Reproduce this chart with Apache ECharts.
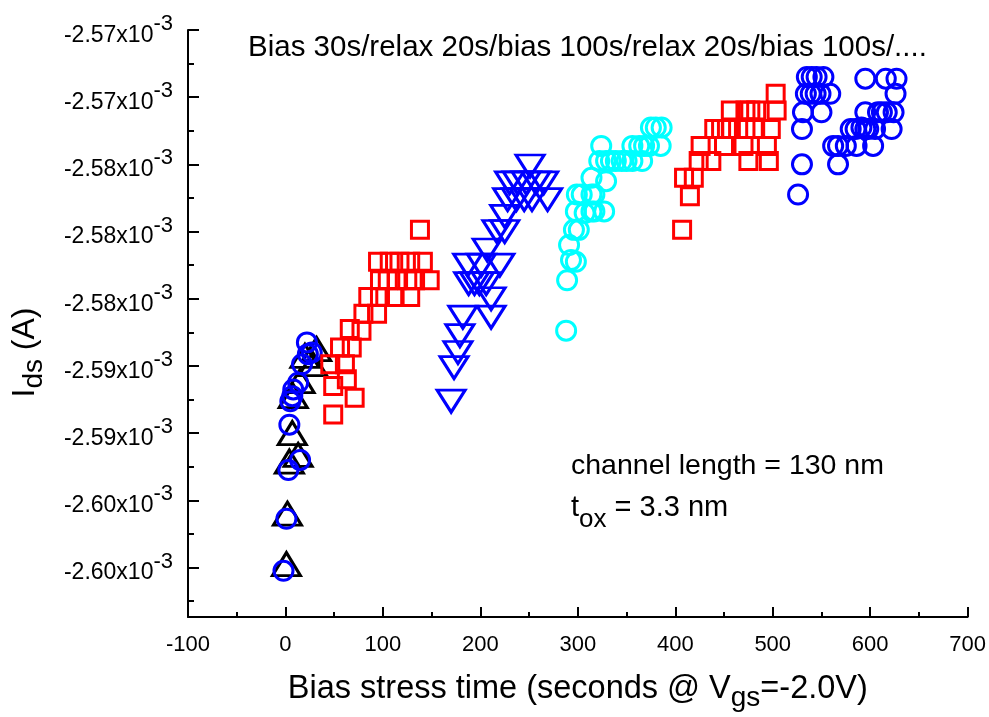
<!DOCTYPE html>
<html>
<head>
<meta charset="utf-8">
<script src="https://cdn.jsdelivr.net/npm/echarts@6/dist/echarts.min.js"></script>
<style>
  html, body { margin: 0; padding: 0; background: #fff; }
  #main { width: 989px; height: 717px; }
</style>
</head>
<body>
<div id="main"></div>
<script>
// Ids values are in units of 1e-3 A, time in seconds
var triX = [1, 2, 4, 13, 7, 8, 15, 20, 28, 32];
var triY = [-2.5998, -2.5968, -2.5937, -2.5933, -2.5920, -2.5898, -2.5889, -2.5874, -2.5879, -2.5870];

var circ1X = [-2, 1, 3, 15, 4, 5, 7, 8, 13, 17, 22, 23, 27];
var circ1Y = [-2.6002, -2.5971, -2.5942, -2.5936, -2.5915, -2.5901, -2.5898, -2.5894, -2.5890, -2.5879, -2.5866, -2.5873, -2.5872];

var sq1X = [49, 71, 49, 63, 46, 61, 56, 68, 66, 78, 80, 94, 85, 97, 112, 128,
            97, 105, 114, 125, 133, 148, 95, 107, 117, 128, 141, 138];
var sq1Y = [-2.5909, -2.5899, -2.5892, -2.5888, -2.5879, -2.5879, -2.5869, -2.5869, -2.5858, -2.5859,
            -2.5849, -2.5849, -2.5839, -2.5839, -2.5839, -2.5839,
            -2.5829, -2.5829, -2.5829, -2.5829, -2.5829, -2.5829,
            -2.5818, -2.5818, -2.5818, -2.5818, -2.5818, -2.5799];

var triDX = [170, 173, 177, 179, 182, 188, 194, 199, 206, 211, 211, 187, 201, 220, 207,
             217, 225, 225, 228, 237, 245, 253, 269, 230, 238, 247, 257, 265, 251];
var triDY = [-2.5901, -2.5881, -2.5872, -2.5862, -2.5851, -2.5831, -2.5831, -2.5831, -2.5831, -2.5840,
             -2.5851, -2.5820, -2.5820, -2.5820, -2.5811, -2.5800, -2.5800, -2.5791,
             -2.5781, -2.5781, -2.5781, -2.5781, -2.5781,
             -2.5771, -2.5771, -2.5771, -2.5771, -2.5771, -2.5761];

var cyanX = [288, 289, 298, 293, 291, 296, 301, 298, 307, 314, 317, 327, 299, 304, 314, 317, 314, 329,
             322, 329, 334, 339, 345, 350, 356, 366, 324, 356, 363, 368, 373, 385, 375, 380, 386];
var cyanY = [-2.5859, -2.5829, -2.5818, -2.5817, -2.5808, -2.5799, -2.5799, -2.5788, -2.5789, -2.5788,
             -2.5788, -2.5788, -2.5778, -2.5778, -2.5778, -2.5778, -2.5768, -2.5770,
             -2.5758, -2.5758, -2.5758, -2.5758, -2.5758, -2.5758, -2.5758, -2.5758,
             -2.5749, -2.5749, -2.5749, -2.5749, -2.5749, -2.5749, -2.5738, -2.5738, -2.5738];

var sq2X = [407, 415, 409, 419, 424, 437, 475, 496, 426, 450, 470, 494,
            440, 447, 453, 457, 472, 482, 498, 457, 472, 477, 483, 504, 503];
var sq2Y = [-2.5799, -2.5779, -2.5768, -2.5768, -2.5758, -2.5758, -2.5758, -2.5758,
            -2.5749, -2.5749, -2.5749, -2.5749,
            -2.5739, -2.5739, -2.5739, -2.5739, -2.5739, -2.5739, -2.5739,
            -2.5728, -2.5728, -2.5728, -2.5728, -2.5728, -2.5718];

var circ2X = [526, 530, 530, 531, 550, 534, 539, 544, 549, 559, 535, 540, 545, 552,
              567, 562, 567, 575, 586, 603, 580, 585, 595, 598, 605, 622, 591,
              595, 608, 612, 617, 624, 626, 595, 616, 627];
var circ2Y = [-2.5778, -2.5760, -2.5739, -2.5729, -2.5729,
              -2.5718, -2.5718, -2.5718, -2.5718, -2.5718,
              -2.5708, -2.5708, -2.5708, -2.5708,
              -2.5760, -2.5749, -2.5749, -2.5749, -2.5749, -2.5749,
              -2.5739, -2.5739, -2.5739, -2.5739, -2.5739, -2.5739, -2.5738,
              -2.5729, -2.5729, -2.5729, -2.5729, -2.5729, -2.5718, -2.5709, -2.5709, -2.5709];

var yTicks = [-2.568, -2.572, -2.576, -2.580, -2.584, -2.588, -2.592, -2.596, -2.600];
var yMinorTicks = [-2.570, -2.574, -2.578, -2.582, -2.586, -2.590, -2.594, -2.598, -2.602];

function pairs(xs, ys) {
    return xs.map(function (x, i) { return [x, ys[i]]; });
}

var FONT = 'Liberation Sans';

function scatter(name, xs, ys, color, symbol, size, bw, rotate) {
    return {
        name: name,
        type: 'scatter',
        data: pairs(xs, ys),
        symbol: symbol,
        symbolSize: size,
        symbolRotate: rotate || 0,
        itemStyle: { color: 'rgba(0,0,0,0)', borderColor: color, borderWidth: bw, opacity: 1 },
        emphasis: { disabled: true }
    };
}

var myChart = echarts.init(document.getElementById('main'));
option = {
    animation: false,
    backgroundColor: '#fff',
    grid: { left: 188, right: 19, top: 30, bottom: 94 },
    xAxis: {
        type: 'value',
        min: -100,
        max: 700,
        interval: 100,
        name: 'Bias stress time (seconds @ V{sub|gs}=-2.0V)',
        nameLocation: 'middle',
        nameGap: 49,
        nameTextStyle: {
            fontFamily: FONT, fontSize: 32.5, color: '#000',
            rich: { sub: { fontFamily: FONT, fontSize: 28, color: '#000', padding: [18, 0, 0, 0] } }
        },
        axisLine: { onZero: false, lineStyle: { color: '#000', width: 2 } },
        axisTick: { inside: true, length: 10, lineStyle: { color: '#000', width: 2 } },
        minorTick: { show: true, splitNumber: 2, length: 5, lineStyle: { color: '#000', width: 2 } },
        axisLabel: { margin: 17, fontFamily: FONT, fontSize: 22, color: '#000' },
        splitLine: { show: false }
    },
    yAxis: [{
        type: 'value',
        min: -2.60295,
        max: -2.568,
        name: 'I{sub|ds} (A)',
        nameLocation: 'middle',
        nameGap: 140,
        nameTextStyle: {
            fontFamily: FONT, fontSize: 32, color: '#000', padding: [0, 58, 0, 0],
            rich: { sub: { fontFamily: FONT, fontSize: 28, color: '#000', padding: [18, 0, 0, 0] } }
        },
        axisLine: { onZero: false, lineStyle: { color: '#000', width: 2 } },
        axisTick: { inside: true, length: 11, customValues: yTicks, lineStyle: { color: '#000', width: 2 } },
        axisLabel: {
            customValues: yTicks,
            margin: 15,
            color: '#000',
            formatter: function (v) {
                return '{m|' + v.toFixed(2) + 'x10}{s|-3}';
            },
            rich: {
                m: { fontFamily: FONT, fontSize: 23, color: '#000', verticalAlign: 'bottom', padding: [11, 0, 0, 0] },
                s: { fontFamily: FONT, fontSize: 22, color: '#000', verticalAlign: 'top' }
            }
        },
        splitLine: { show: false }
    }, {
        type: 'value',
        min: -2.60295,
        max: -2.568,
        position: 'left',
        axisLine: { show: false, onZero: false },
        axisTick: { inside: true, length: 6, customValues: yMinorTicks, lineStyle: { color: '#000', width: 2 } },
        axisLabel: { show: false },
        splitLine: { show: false }
    }],
    graphic: [
        {
            type: 'text', left: 248, top: 33,
            style: { text: 'Bias 30s/relax 20s/bias 100s/relax 20s/bias 100s/....', font: '29.5px "Liberation Sans"', fill: '#000' }
        },
        {
            type: 'text', left: 571, top: 452,
            style: { text: 'channel length = 130 nm', font: '28.5px "Liberation Sans"', fill: '#000' }
        },
        {
            type: 'text', left: 571, top: 493,
            style: {
                text: '{a|t}{b|ox}{a| = 3.3 nm}',
                rich: {
                    a: { fontFamily: FONT, fontSize: 29, fill: '#000', color: '#000', verticalAlign: 'top' },
                    b: { fontFamily: FONT, fontSize: 26, fill: '#000', color: '#000', verticalAlign: 'bottom', padding: [14, 0, 0, 0] }
                }
            }
        }
    ],
    series: [
        scatter('tri', triX, triY, '#000000', 'triangle', [28, 23], 3),
        scatter('circ1', circ1X, circ1Y, '#0000ff', 'circle', 19, 3),
        scatter('sq1', sq1X, sq1Y, '#ff0000', 'rect', 17, 3),
        scatter('triD', triDX, triDY, '#0000ff', 'triangle', [28, 22], 3, 180),
        scatter('cyan', cyanX, cyanY, '#00ffff', 'circle', 19, 3),
        scatter('sq2', sq2X, sq2Y, '#ff0000', 'rect', 17, 3),
        scatter('circ2', circ2X, circ2Y, '#0000ff', 'circle', 19, 3)
    ]
};
myChart.setOption(option);
</script>
</body>
</html>
